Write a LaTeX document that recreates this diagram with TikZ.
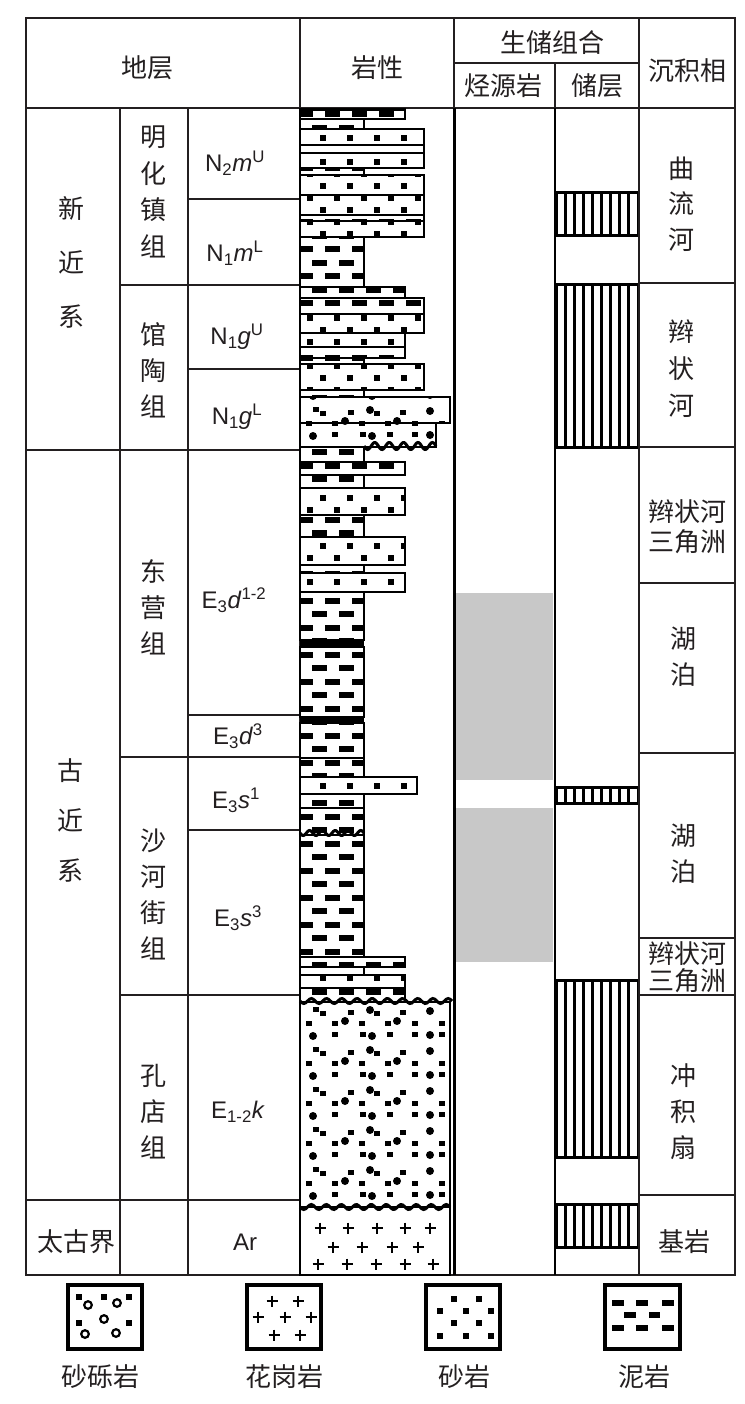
\documentclass[tikz,border=0pt]{standalone}
\usepackage{fontspec}
\setmainfont{Liberation Sans}
\newfontfamily\cjk{Noto Sans CJK SC}
\definecolor{src}{HTML}{C8C8C8}
\definecolor{ln}{HTML}{231F20}
\tikzset{
  tl/.style={line width=1.5pt, draw=ln},
  thk/.style={line width=2.6pt, draw=black},
  lyr/.style={line width=2.8pt, draw=black},
  hat/.style={line width=3pt, draw=black},
  cz/.style={font=\cjk\fontsize{26pt}{#1}\selectfont, align=center, inner sep=0pt, text=ln},
  cz/.default=30pt,
  lab/.style={font=\fontsize{24pt}{24pt}\selectfont, inner sep=0pt, text=ln},
  lgbox/.style={line width=3.6pt, draw=black},
}
% mudstone layer: y1 y2 xright
\newcommand\LMud[3]{%
  \begin{scope}
    \clip (300,#1) rectangle (#3,#2);
    \pgfmathtruncatemacro\ka{floor((#1)/13.5)}%
    \pgfmathtruncatemacro\kb{floor((#2)/13.5)+1}%
    \foreach \k in {\ka,...,\kb}{%
      \pgfmathsetmacro\yy{\k*13.5+6.5}%
      \ifodd\k
        \foreach \xx in {319,346,373,400,427}{\fill (\xx-7.5,\yy-3) rectangle (\xx+7.5,\yy+3);}%
      \else
        \foreach \xx in {305,332,359,386,413,440}{\fill (\xx-7.5,\yy-3) rectangle (\xx+7.5,\yy+3);}%
      \fi}%
  \end{scope}
  \draw[lyr] (300,#1) rectangle (#3,#2);}
% sandstone layer
\newcommand\LSand[3]{%
  \begin{scope}
    \clip (300,#1) rectangle (#3,#2);
    \pgfmathtruncatemacro\ka{floor((#1)/12)}%
    \pgfmathtruncatemacro\kb{floor((#2)/12)+1}%
    \foreach \k in {\ka,...,\kb}{%
      \pgfmathsetmacro\yy{\k*12+6}%
      \ifodd\k
        \foreach \xx in {323,350,377,404,431}{\fill (\xx-3,\yy-3) rectangle (\xx+3,\yy+3);}%
      \else
        \foreach \xx in {310,337,364,391,418,445}{\fill (\xx-3,\yy-3) rectangle (\xx+3,\yy+3);}%
      \fi}%
  \end{scope}
  \draw[lyr] (300,#1) rectangle (#3,#2);}
% pebbly sandstone layer
\newcommand\LPeb[3]{%
  \begin{scope}
    \clip (300,#1) rectangle (#3,#2);
    \pgfmathtruncatemacro\ka{floor((#1)/40)-1}%
    \pgfmathtruncatemacro\kb{floor((#2)/40)}%
    \foreach \k in {\ka,...,\kb}{%
      \pgfmathsetmacro\yt{\k*40+7}%
      \foreach \xx/\dy in {316/0,323/4,351/3,377/4,403/3,309/14,335/14,362/14,388/14,415/14,442/14,335/25,363/25,390/25,415/25,442/25}{\fill (\xx-2.6,\yt+\dy) rectangle +(5.4,5.4);}%
      \foreach \xx/\dy in {370/1,430/2,345/12,397/12,313/27,372/27,430/26}{\fill (\xx,\yt+\dy+2) circle (4pt);}%
    }%
  \end{scope}
  \draw[lyr] (300,#1) rectangle (#3,#2);}
\newcommand\gplus[2]{\draw[line width=2.5pt] (#1-5.5,#2) -- (#1+5.5,#2) (#1,#2-5.5) -- (#1,#2+5.5);}
\newcommand\ewave[5]{\draw[line width=3pt] plot[domain=#1:#2, samples=80, smooth] (\x,{#3+#4*sin((\x-#1)/#5*360)});}
\newcommand\RHatch[2]{%
  \foreach \xx in {565,574,583,592,601,610,619,628}{\draw[hat] (\xx,#1) -- (\xx,#2);}%
  \draw[hat] (556,#1) rectangle (638.5,#2);}
\newcommand\sq[2]{\fill (#1-2.7,#2-2.7) rectangle (#1+2.7,#2+2.7);}
\newcommand\dsh[3]{\fill (#1,#3-3) rectangle (#2,#3+3);}

\begin{document}
\begin{tikzpicture}[x=1pt,y=-1pt]
\useasboundingbox (0,0) rectangle (744,1404);
\fill[white] (0,0) rectangle (744,1404);

% source rock shading
\fill[src] (456,593) rectangle (553,780);
\fill[src] (456,808) rectangle (553,962);

% reservoir hatching
\RHatch{193}{236}
\RHatch{285}{447}
\RHatch{787}{803}
\RHatch{980}{1157}
\RHatch{1204}{1247}

% table grid
\draw[tl] (26,18) rectangle (735,1275);
\draw[tl] (26,108) -- (735,108);
\draw[tl] (454,63) -- (639,63);
\draw[tl] (300,18) -- (300,1275);
\draw[tl] (454,18) -- (454,108);
\draw[tl] (555,63) -- (555,108);
\draw[tl] (639,18) -- (639,1275);
\draw[tl] (120,108) -- (120,1275);
\draw[tl] (188,108) -- (188,1275);
\draw[thk] (454.5,108) -- (454.5,1275);
\draw[thk] (555,108) -- (555,1275);
\draw[tl] (26,450) -- (300,450);
\draw[tl] (26,1200) -- (300,1200);
\foreach \yy in {285,757,995}{\draw[tl] (120,\yy) -- (300,\yy);}
\foreach \yy in {199,369,715,830}{\draw[tl] (188,\yy) -- (300,\yy);}
\foreach \yy in {283,447,583,753,938,995,1195}{\draw[tl] (639,\yy) -- (735,\yy);}

% lithology column
\LMud{109.5}{119}{405}
\LMud{119}{129}{364}
\LSand{129}{145}{424}
\LMud{145}{153}{424}
\LSand{153}{168}{424}
\LMud{168}{175}{364}
\LSand{175}{195}{424}
\LSand{195}{215}{424}
\LMud{215}{221}{424}
\LSand{221}{237}{424}
\LMud{237}{287}{364}
\LMud{287}{298}{405}
\LMud{298}{314}{424}
\LSand{314}{333}{424}
\LSand{333}{347}{405}
\LMud{347}{358}{405}
\LMud{358}{364}{364}
\LSand{364}{390}{424}
\LMud{390}{397}{364}
\LPeb{397}{423}{450}
\LPeb{423}{447}{436}
\LMud{447}{462}{364}
\LMud{462}{475}{405}
\LMud{475}{488}{364}
\LSand{488}{515}{405}
\LMud{515}{537}{364}
\LSand{537}{565}{405}
\LMud{565}{573}{364}
\LSand{573}{592}{405}
\LMud{592}{640}{364}
\fill (300,640) rectangle (364,647);
\LMud{647}{717}{364}
\fill (300,717) rectangle (364,723);
\LMud{723}{758}{364}
\LMud{758}{777}{364}
\LSand{777}{794}{417}
\LMud{794}{808}{364}
\LMud{808}{835}{364}
\LMud{835}{957}{364}
\LMud{957}{967}{405}
\LMud{967}{975}{364}
\LSand{975}{988}{405}
\LMud{988}{1002}{405}
\LPeb{1002}{1207}{450}
\draw[lyr] (300,1207) rectangle (450,1275);
\foreach \xx in {320,348,377,405,430}{\gplus{\xx}{1228}}
\foreach \xx in {333,362,392,418}{\gplus{\xx}{1247}}
\foreach \xx in {318,347,376,405,433}{\gplus{\xx}{1264}}
% erosion surfaces
\ewave{364}{436}{446}{3.5}{14.4}
\ewave{300}{364}{833}{2.5}{12.8}
\ewave{300}{452}{1001}{2.5}{15.2}
\ewave{300}{450}{1207}{2.5}{15}

% header texts
\node[cz] (h1) at (147,68) {地层};
\node[cz] (h2) at (377,68) {岩性};
\node[cz] (h3) at (552,43) {生储组合};
\node[cz] (h4) at (503,86) {烃源岩};
\node[cz] (h5) at (597,86) {储层};
\node[cz] (h6) at (687,71) {沉积相};

% stratigraphy texts
\node[cz=54pt] (s1) at (71,262) {新\\近\\系};
\node[cz=36.5pt] (f1) at (153,192) {明\\化\\镇\\组};
\node[cz=36pt] (f2) at (153,370) {馆\\陶\\组};
\node[cz=50pt] (s2) at (70,820) {古\\近\\系};
\node[cz=36pt] (f3) at (153,607) {东\\营\\组};
\node[cz=36pt] (f4) at (153,894) {沙\\河\\街\\组};
\node[cz=36pt] (f5) at (153,1112) {孔\\店\\组};
\node[cz] (s3) at (76,1242) {太古界};

\node[lab] (n1) at (235,163) {N\textsubscript{2}\textit{m}\textsuperscript{U}};
\node[lab] (n2) at (235,253) {N\textsubscript{1}\textit{m}\textsuperscript{L}};
\node[lab] (n3) at (237,337) {N\textsubscript{1}\textit{g}\textsuperscript{U}};
\node[lab] (n4) at (237,417) {N\textsubscript{1}\textit{g}\textsuperscript{L}};
\node[lab] (e1) at (234,600) {E\textsubscript{3}\textit{d}\textsuperscript{1-2}};
\node[lab] (e2) at (238,736) {E\textsubscript{3}\textit{d}\textsuperscript{3}};
\node[lab] (e3) at (236,800) {E\textsubscript{3}\textit{s}\textsuperscript{1}};
\node[lab] (e4) at (238,918) {E\textsubscript{3}\textit{s}\textsuperscript{3}};
\node[lab] (e5) at (238,1112) {E\textsubscript{1-2}\textit{k}};
\node[lab] (ar) at (245,1242) {Ar};

% facies texts
\node[cz=35.5pt] (d1) at (681,204) {曲\\流\\河};
\node[cz=37pt] (d2) at (681,369) {辫\\状\\河};
\node[cz=30pt] (d3) at (687,527) {辫状河\\三角洲};
\node[cz=36pt] (d4) at (683,657) {湖\\泊};
\node[cz=36pt] (d5) at (683,854) {湖\\泊};
\node[cz=27pt] (d6) at (687,967) {辫状河\\三角洲};
\node[cz=36pt] (d7) at (683,1112) {冲\\积\\扇};
\node[cz] (d8) at (684,1242) {基岩};

% legend
\draw[lgbox] (68,1285) rectangle (142,1349);
\foreach \xx/\yy in {88/1305,117/1303,104/1319,85/1334,116/1333}{\draw[line width=2.2pt] (\xx,\yy) circle (3.8pt);}
\foreach \xx/\yy in {79/1297,104/1297,129/1297,79/1323,129/1323}{\sq{\xx}{\yy}}
\draw[lgbox] (247,1285) rectangle (321,1349);
\foreach \xx/\yy in {272/1301,298/1301,258/1317,285/1317,311/1317,274/1335,300/1335}{\gplus{\xx}{\yy}}
\draw[lgbox] (426,1285) rectangle (500,1349);
\foreach \xx/\yy in {454/1299,479/1299,440/1311,466/1311,491/1311,454/1323,479/1323,440/1336,466/1336,491/1336}{\sq{\xx}{\yy}}
\draw[lgbox] (605,1285) rectangle (680,1349);
\dsh{612}{624}{1303}\dsh{636}{648}{1303}\dsh{662}{674}{1303}
\dsh{624}{636}{1315}\dsh{649}{660}{1315}
\dsh{612}{624}{1328}\dsh{636}{648}{1328}\dsh{662}{674}{1328}

\node[cz] (l1) at (100,1377) {砂砾岩};
\node[cz] (l2) at (284,1377) {花岗岩};
\node[cz] (l3) at (464,1377) {砂岩};
\node[cz] (l4) at (644,1377) {泥岩};
\end{tikzpicture}
\end{document}
